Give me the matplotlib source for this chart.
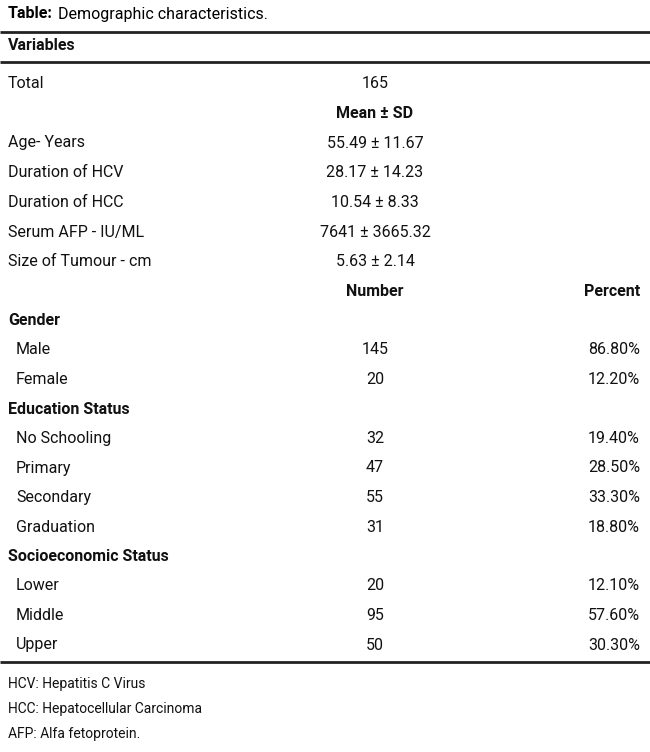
import matplotlib
matplotlib.use("Agg")
import matplotlib.pyplot as plt

plt.rcParams["font.family"] = ["Liberation Sans Narrow", "Roboto", "DejaVu Sans"]

# table contents
stat_labels = ["Age- Years", "Duration of HCV", "Duration of HCC", "Serum AFP - IU/ML", "Size of Tumour - cm"]
stat_values = ["55.49 \u00b1 11.67", "28.17 \u00b1 14.23", "10.54 \u00b1 8.33", "7641 \u00b1 3665.32", "5.63 \u00b1 2.14"]
groups = ["Gender", "Education Status", "Socioeconomic Status"]
group_items = [["Male", "Female"],
               ["No Schooling", "Primary", "Secondary", "Graduation"],
               ["Lower", "Middle", "Upper"]]
group_numbers = [[145, 20], [32, 47, 55, 31], [20, 95, 50]]
group_percents = [["86.80%", "12.20%"], ["19.40%", "28.50%", "33.30%", "18.80%"],
                  ["12.10%", "57.60%", "30.30%"]]
footnotes = ["HCV: Hepatitis C Virus", "HCC: Hepatocellular Carcinoma", "AFP: Alfa fetoprotein."]

W, H = 650, 752
fig = plt.figure(figsize=(W / 100, H / 100), dpi=100)
ax = fig.add_axes([0, 0, 1, 1])
ax.set_xlim(0, W)
ax.set_ylim(H, 0)
ax.axis("off")

FS = 11.5
XL, XM, XR = 8, 375, 640


def txt(x, y, s, ha="left", bold=False, size=FS):
    ax.text(x, y, s, ha=ha, va="center", fontsize=size,
            fontweight="bold" if bold else "normal", color="#111111")


ax.text(8, 14, "Table:", ha="left", va="center", fontsize=FS, fontweight="bold")
ax.text(58, 14, "Demographic characteristics.", ha="left", va="center", fontsize=FS)
for y in [32, 62, 662]:
    ax.plot([0, W], [y, y], color="#222222", lw=2.0, solid_capstyle="butt")

txt(XL, 45, "Variables", bold=True)
txt(XL, 84, "Total")
txt(XM, 84, "165", ha="center")
txt(XM, 113, "Mean \u00b1 SD", ha="center", bold=True)

y = 143
for lab, val in zip(stat_labels, stat_values):
    txt(XL, y, lab)
    txt(XM, y, val, ha="center")
    y += 29.7

y = 291
txt(XM, y, "Number", ha="center", bold=True)
txt(XR, y, "Percent", ha="right", bold=True)
step = 29.5
for g, items, nums, pcts in zip(groups, group_items, group_numbers, group_percents):
    y += step
    txt(XL, y, g, bold=True)
    for it, n, p in zip(items, nums, pcts):
        y += step
        txt(XL + 8, y, it)
        txt(XM, y, str(n), ha="center")
        txt(XR, y, p, ha="right")

for i, f in enumerate(footnotes):
    txt(XL, 684 + i * 25, f, size=10)

fig.savefig("out.png", dpi=100, facecolor="white")
